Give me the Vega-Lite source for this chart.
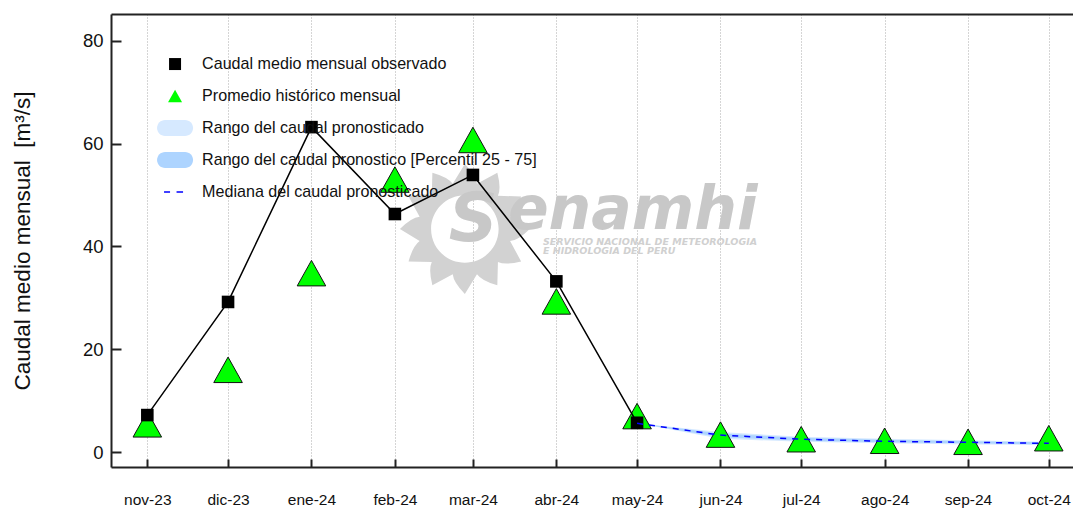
{"$schema":"https://vega.github.io/schema/vega-lite/v6.json","width":962,"height":453,"autosize":{"type":"none"},"padding":{"left":111,"top":14,"right":0,"bottom":41},"background":"white","config":{"view":{"stroke":null},"font":"Liberation Sans"},
"datasets":{"obs":[{"date":"2023-11-01","value":7.2},{"date":"2023-12-01","value":29.2},{"date":"2024-01-01","value":63.2},{"date":"2024-02-01","value":46.3},{"date":"2024-03-01","value":53.9},{"date":"2024-04-01","value":33.2},{"date":"2024-05-01","value":5.7}],
"hist":[{"date":"2023-11-01","value":5.4},{"date":"2023-12-01","value":16},{"date":"2024-01-01","value":34.8},{"date":"2024-02-01","value":53},{"date":"2024-03-01","value":60.7},{"date":"2024-04-01","value":29.3},{"date":"2024-05-01","value":7},{"date":"2024-06-01","value":3.4},{"date":"2024-07-01","value":2.5},{"date":"2024-08-01","value":2.2},{"date":"2024-09-01","value":2},{"date":"2024-10-01","value":2.7}],
"fc":[{"date":"2024-05-01","min":5.6,"max":5.6,"p25":5.6,"p75":5.6,"median":5.6},{"date":"2024-06-01","min":2.6,"max":3.9,"p25":2.9,"p75":3.6,"median":3.3},{"date":"2024-07-01","min":2,"max":3,"p25":2.2,"p75":2.8,"median":2.5},{"date":"2024-08-01","min":1.7,"max":2.6,"p25":1.9,"p75":2.4,"median":2.1},{"date":"2024-09-01","min":1.5,"max":2.3,"p25":1.7,"p75":2.1,"median":1.9},{"date":"2024-10-01","min":1.4,"max":2,"p25":1.5,"p75":1.9,"median":1.7}],
"logoS":[{"date":"2024-02-21","value":41,"text":"S"}],
"logoName":[{"date":"2024-03-14","value":43.4,"text":"enamhi"}],
"logoSub":[{"date":"2024-03-27","value":40.3,"text":"SERVICIO NACIONAL DE METEOROLOGIA"},{"date":"2024-03-27","value":38.5,"text":"E HIDROLOGIA DEL PERU"}],
"logoSun":[{"date":"2024-02-27","value":43.4}]},
"encoding":{"x":{"field":"date","type":"temporal","scale":{"type":"utc","domain":["2023-10-18T12:00:00Z","2024-10-10T00:00:00Z"]},"axis":null},
"y":{"field":"value","type":"quantitative","scale":{"domain":[-2.9,85.2],"nice":false,"zero":false},"axis":{"title":"Caudal medio mensual\u00a0\u00a0[m³/s]","titleFontSize":22.5,"titleFontWeight":"normal","titleColor":"#111111","titleX":-77,"values":[0,20,40,60,80],"grid":false,"tickSize":-10,"tickColor":"#222222","tickWidth":2,"domainColor":"#222222","domainWidth":2,"labelPadding":18,"labelFontSize":18.5,"labelColor":"#111111"}}},
"layer":[
{"data":{"name":"logoSun"},"mark":{"type":"point","filled":true,"opacity":1,"size":300,"color":"#d2d2d2","shape":"M7.5,0Q6.16,1.31 5.22,1.4L6.5,3.75Q4.68,4.22 3.82,3.82L3.75,6.5Q1.95,5.99 1.4,5.22L0,7.5Q-1.31,6.16 -1.4,5.22L-3.75,6.5Q-4.22,4.68 -3.82,3.82L-6.5,3.75Q-5.99,1.95 -5.22,1.4L-7.5,0Q-6.16,-1.31 -5.22,-1.4L-6.5,-3.75Q-4.68,-4.22 -3.82,-3.82L-3.75,-6.5Q-1.95,-5.99 -1.4,-5.22L0,-7.5Q1.31,-6.16 1.4,-5.22L3.75,-6.5Q4.22,-4.68 3.82,-3.82L6.5,-3.75Q5.99,-1.95 5.22,-1.4ZM3.9,0A3.9,3.9 0 0 0 -3.9,0A3.9,3.9 0 0 0 3.9,0Z"},"encoding":{"x":{"field":"date","type":"temporal","scale":{"type":"utc","domain":["2023-10-18T12:00:00Z","2024-10-10T00:00:00Z"]},"axis":{"orient":"bottom","title":null,"grid":true,"gridColor":"#aaaaaa","gridDash":[1,2],"gridWidth":1,"tickCount":{"interval":"month","step":1},"tickSize":-8,"tickColor":"#222222","tickWidth":2,"domainColor":"#222222","domainWidth":2,"labelPadding":33,"labelFontSize":15.5,"labelColor":"#111111","labelFlush":false,"labelOverlap":false,"labelExpr":"['ene','feb','mar','abr','may','jun','jul','ago','sep','oct','nov','dic'][utcmonth(datum.value)]+'-'+utcFormat(datum.value,'%y')"}}}},
{"data":{"name":"logoS"},"mark":{"type":"text","font":"DejaVu Sans","fontWeight":"bold","fontStyle":"italic","fontSize":68,"align":"left","baseline":"alphabetic","color":"#c8c8c8"},"encoding":{"text":{"field":"text"}}},
{"data":{"name":"logoName"},"mark":{"type":"text","font":"DejaVu Sans","fontWeight":"bold","fontStyle":"italic","fontSize":60,"align":"left","baseline":"alphabetic","color":"#c8c8c8"},"encoding":{"text":{"field":"text"}}},
{"data":{"name":"logoSub"},"mark":{"type":"text","font":"DejaVu Sans","fontWeight":"bold","fontStyle":"italic","fontSize":9.5,"align":"left","baseline":"alphabetic","color":"#d0d0d0"},"encoding":{"text":{"field":"text"}}},
{"data":{"name":"fc"},"mark":{"type":"area","color":"#d6e9ff"},"encoding":{"y":{"field":"min","type":"quantitative"},"y2":{"field":"max"}}},
{"data":{"name":"fc"},"mark":{"type":"area","color":"#add4ff"},"encoding":{"y":{"field":"p25","type":"quantitative"},"y2":{"field":"p75"}}},
{"data":{"name":"hist"},"mark":{"type":"point","filled":true,"opacity":1,"size":416,"stroke":"#111111","strokeWidth":1},"encoding":{"color":{"datum":"Promedio histórico mensual","scale":{"domain":["Caudal medio mensual observado","Promedio histórico mensual","Rango del caudal pronosticado","Rango del caudal pronostico [Percentil 25 - 75]","Mediana del caudal pronosticado"],"range":["#000000","#00ff00","#d6e9ff","#add4ff","#0000ff"]},"legend":{"title":null,"orient":"none","legendX":56,"legendY":42,"padding":0,"symbolSize":100,"symbolStrokeWidth":0,"symbolOpacity":1,"labelFontSize":16.1,"labelColor":"#111111","labelOffset":19,"rowPadding":15,"labelLimit":500}},"shape":{"datum":"Promedio histórico mensual","scale":{"domain":["Caudal medio mensual observado","Promedio histórico mensual","Rango del caudal pronosticado","Rango del caudal pronostico [Percentil 25 - 75]","Mediana del caudal pronosticado"],"range":["M-1.2,-1.2H1.2V1.2H-1.2Z","M0,-1.25L1.4,1.25L-1.4,1.25Z","M-2,-1.6H2A1.6,1.6 0 0 1 2,1.6H-2A1.6,1.6 0 0 1 -2,-1.6Z","M-2,-1.6H2A1.6,1.6 0 0 1 2,1.6H-2A1.6,1.6 0 0 1 -2,-1.6Z","M-2.2,-0.15H-1V0.15H-2.2ZM0.3,-0.15H1.6V0.15H0.3Z"]},"legend":{"title":null,"orient":"none","legendX":56,"legendY":42,"padding":0,"symbolSize":100,"symbolStrokeWidth":0,"symbolOpacity":1,"labelFontSize":16.1,"labelColor":"#111111","labelOffset":19,"rowPadding":15,"labelLimit":500}}}},
{"data":{"name":"obs"},"mark":{"type":"line","color":"#000000","strokeWidth":1.5}},
{"data":{"name":"obs"},"mark":{"type":"point","filled":true,"opacity":1,"size":110,"stroke":null},"encoding":{"color":{"datum":"Caudal medio mensual observado","scale":{"domain":["Caudal medio mensual observado","Promedio histórico mensual","Rango del caudal pronosticado","Rango del caudal pronostico [Percentil 25 - 75]","Mediana del caudal pronosticado"],"range":["#000000","#00ff00","#d6e9ff","#add4ff","#0000ff"]}},"shape":{"datum":"Caudal medio mensual observado"}}},
{"data":{"name":"fc"},"mark":{"type":"line","color":"#0000ff","strokeWidth":1.5,"strokeDash":[6,6]},"encoding":{"y":{"field":"median","type":"quantitative"}}},
{"data":{"name":"logoSun"},"mark":{"type":"point","opacity":0,"size":1},"encoding":{"x":{"field":"date","type":"temporal","scale":{"type":"utc","domain":["2023-10-18T12:00:00Z","2024-10-10T00:00:00Z"]},"axis":{"orient":"top","title":null,"labels":false,"ticks":false,"grid":false,"domain":true,"domainColor":"#222222","domainWidth":2}}}}
]}
